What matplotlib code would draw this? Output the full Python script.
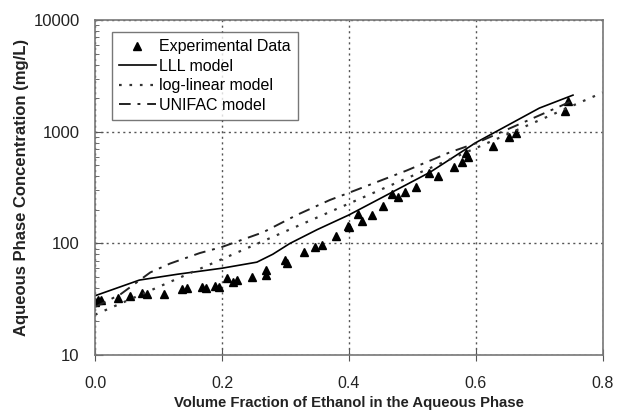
import matplotlib
matplotlib.use("Agg")
import matplotlib.pyplot as plt
from matplotlib.ticker import LogLocator, FixedLocator, NullFormatter

plt.rcParams['font.family'] = ['Liberation Sans', 'DejaVu Sans']

# Experimental data
exp_x = [0.0, 0.005, 0.01, 0.036, 0.055, 0.074, 0.082, 0.109, 0.137, 0.145,
         0.168, 0.175, 0.189, 0.195, 0.208, 0.217, 0.224, 0.247, 0.269, 0.269,
         0.30, 0.302, 0.329, 0.346, 0.357, 0.38, 0.398, 0.40, 0.414, 0.42,
         0.436, 0.454, 0.468, 0.477, 0.488, 0.506, 0.526, 0.54, 0.565, 0.578,
         0.584, 0.587, 0.627, 0.652, 0.663, 0.74, 0.745]
exp_y = [30, 31, 31, 32.5, 34, 36, 35, 35.5, 39, 40,
         41, 40, 42, 41, 49, 45, 47, 50, 58, 52,
         71, 67, 84, 93, 97, 116, 143, 140, 183, 158,
         180, 216, 276, 259, 288, 320, 425, 400, 480, 540,
         640, 600, 740, 890, 970, 1520, 1900]

# LLL model
lll_x = [0.0, 0.07, 0.13, 0.20, 0.255, 0.28, 0.307, 0.35, 0.40, 0.528, 0.60, 0.70, 0.753]
lll_y = [34, 47, 53, 60, 68, 80, 100, 133, 180, 435, 800, 1630, 2130]

# log-linear model
loglin_x = [0.0, 0.8]
loglin_y = [23, 2250]

# UNIFAC model
unifac_x = [0.0, 0.04, 0.087, 0.118, 0.165, 0.20, 0.265, 0.318, 0.37, 0.397, 0.491, 0.559, 0.60, 0.68, 0.748]
unifac_y = [27, 35, 55, 66, 82, 93, 126, 180, 245, 280, 450, 655, 790, 1250, 1850]

fig = plt.figure(figsize=(6.17, 4.11), dpi=100)
ax = fig.add_axes([0.154, 0.136, 0.823, 0.815])

ax.plot(exp_x, exp_y, linestyle='none', marker='^', color='black', markersize=5.5,
        label='Experimental Data')
ax.plot(lll_x, lll_y, '-', color='black', lw=1.2, label='LLL model')
ax.plot(loglin_x, loglin_y, color='#333333', lw=1.6, linestyle=(0, (1.2, 3.5)),
        label='log-linear model')
ax.plot(unifac_x, unifac_y, color='#222222', lw=1.4, linestyle=(0, (6, 3.5, 1.5, 3.5)),
        label='UNIFAC model')

ax.set_yscale('log')
ax.set_xlim(0, 0.8)
ax.set_ylim(10, 10000)
ax.xaxis.set_major_locator(FixedLocator([0.0, 0.2, 0.4, 0.6, 0.8]))
ax.set_xticklabels(['0.0', '0.2', '0.4', '0.6', '0.8'])
ax.yaxis.set_major_locator(FixedLocator([10, 100, 1000, 10000]))
ax.set_yticklabels(['10', '100', '1000', '10000'])
ax.yaxis.set_minor_locator(LogLocator(base=10, subs=range(2, 10)))
ax.yaxis.set_minor_formatter(NullFormatter())

ax.grid(True, which='major', linestyle=(0, (1.5, 2.5)), color='#555555', lw=1.0)

for s in ax.spines.values():
    s.set_color('#777777')
    s.set_linewidth(1.2)

ax.tick_params(axis='x', direction='inout', length=8, colors='#555555', labelcolor='#222222',
               labelsize=11.5, pad=11)
ax.tick_params(axis='y', which='major', direction='in', length=6, colors='#555555',
               labelcolor='#222222', labelsize=12, pad=11)
ax.tick_params(axis='y', which='minor', direction='in', length=3, colors='#555555')

ax.set_xlabel('Volume Fraction of Ethanol in the Aqueous Phase', fontsize=10.7,
              fontweight='bold', color='#222222', labelpad=4)
ax.set_ylabel('Aqueous Phase Concentration (mg/L)', fontsize=12,
              fontweight='bold', color='#222222', labelpad=3)

leg = ax.legend(loc='upper left', bbox_to_anchor=(0.033, 0.964), borderaxespad=0,
                fontsize=11.5, frameon=True, fancybox=False, edgecolor='#555555',
                handlelength=2.3, handletextpad=0.2, borderpad=0.45, labelspacing=0.28)
leg.get_frame().set_linewidth(1.0)

fig.savefig('out.png', dpi=100)
